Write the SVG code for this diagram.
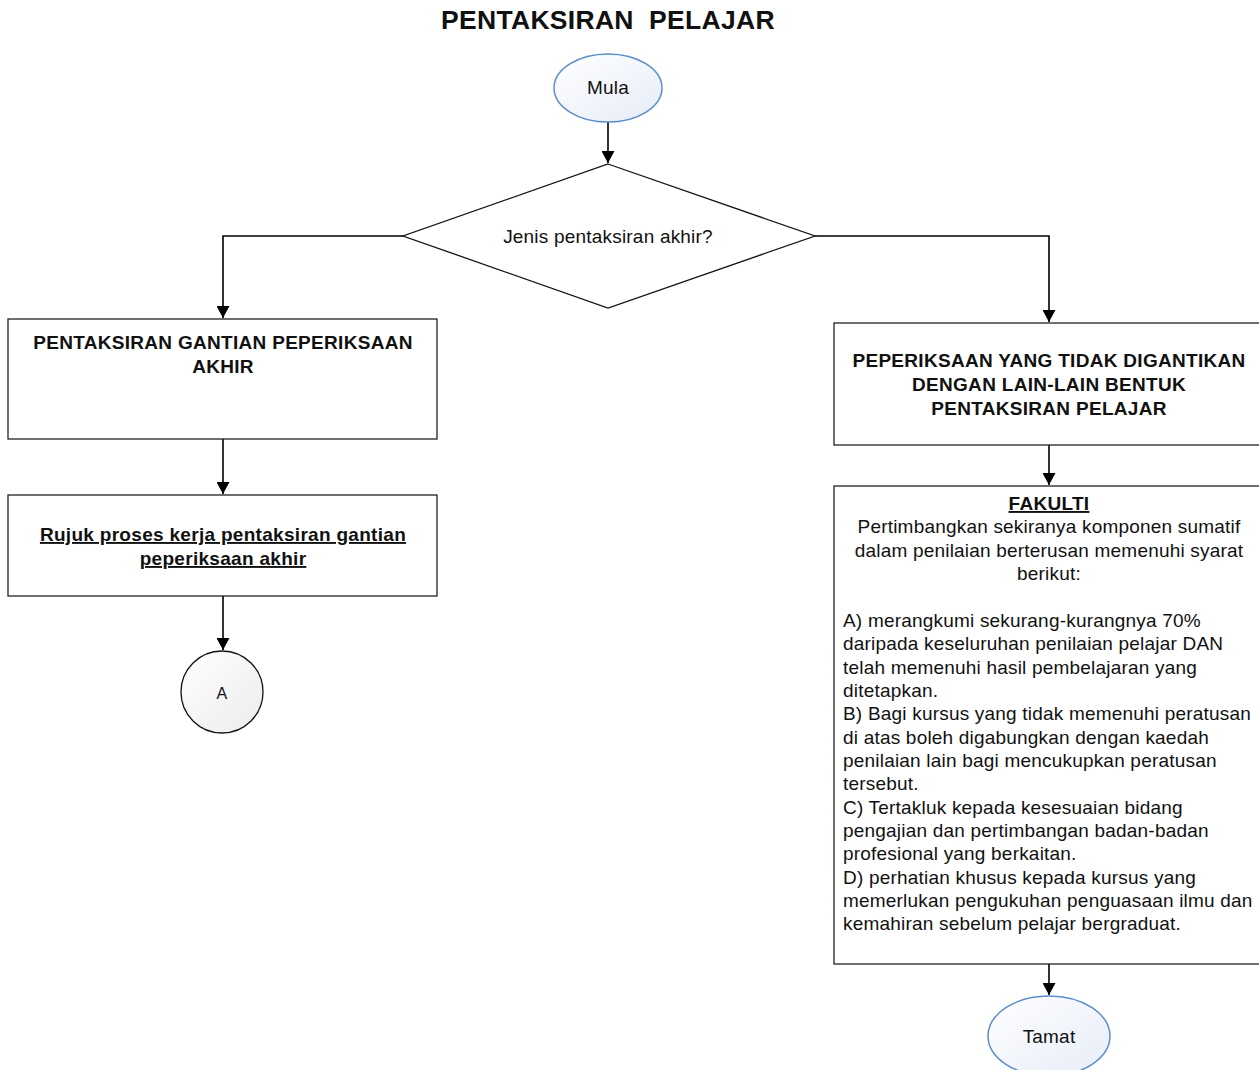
<svg xmlns="http://www.w3.org/2000/svg" width="1259" height="1070" viewBox="0 0 1259 1070">
<style>
text{font-family:"Liberation Sans",Arial,sans-serif;font-size:19px;fill:#111;letter-spacing:0.2px}
.c{text-anchor:middle}
.b{font-weight:bold;letter-spacing:0.3px}
.u{text-decoration:underline}
.box{fill:#fff;stroke:#222;stroke-width:1.3}
.term{fill:url(#gb);stroke:#5a8dc8;stroke-width:1.5}
.con{fill:none;stroke:#000;stroke-width:1.6}
</style>
<defs>
<linearGradient id="gb" x1="0" y1="0" x2="1" y2="1">
<stop offset="0" stop-color="#ffffff"/><stop offset="1" stop-color="#e6ecf7"/>
</linearGradient>
<linearGradient id="gg" x1="0" y1="0" x2="1" y2="1">
<stop offset="0" stop-color="#ffffff"/><stop offset="1" stop-color="#ececef"/>
</linearGradient>
<marker id="ah" markerUnits="userSpaceOnUse" markerWidth="13" markerHeight="13" refX="12" refY="6.5" orient="auto">
<path d="M0,0 L12,6.5 L0,13 z" fill="#000"/>
</marker>
</defs>
<rect width="1259" height="1070" fill="#fff"/>
<text class="c b" x="608" y="29" style="font-size:26.5px;white-space:pre" xml:space="preserve">PENTAKSIRAN  PELAJAR</text>

<g id="connectors">
<path class="con" d="M608,122 V163" marker-end="url(#ah)"/>
<path class="con" d="M403,236 H223 V318" marker-end="url(#ah)"/>
<path class="con" d="M815,236 H1049 V322" marker-end="url(#ah)"/>
<path class="con" d="M223,439 V494" marker-end="url(#ah)"/>
<path class="con" d="M223,596 V650" marker-end="url(#ah)"/>
<path class="con" d="M1049,445 V485" marker-end="url(#ah)"/>
<path class="con" d="M1049,964 V995" marker-end="url(#ah)"/>
</g>

<g id="mula">
<ellipse class="term" cx="608" cy="88" rx="54" ry="34"/>
<text class="c" x="608" y="94">Mula</text>
</g>

<g id="decision">
<polygon points="608,164 815,236 608,308 403,236" fill="#fff" stroke="#111" stroke-width="1.3"/>
<text class="c" x="608" y="243">Jenis pentaksiran akhir?</text>
</g>

<g id="gantian">
<rect class="box" x="8" y="319" width="429" height="120"/>
<text class="c b" x="223" y="349">PENTAKSIRAN GANTIAN PEPERIKSAAN</text>
<text class="c b" x="223" y="373">AKHIR</text>
</g>

<g id="rujuk">
<rect class="box" x="8" y="495" width="429" height="101"/>
<text class="c b u" x="223" y="541">Rujuk proses kerja pentaksiran gantian</text>
<text class="c b u" x="223" y="565">peperiksaan akhir</text>
</g>

<g id="connectorA">
<circle cx="222" cy="692" r="41" fill="url(#gg)" stroke="#111" stroke-width="1.3"/>
<text class="c" x="222" y="699" style="font-size:16px">A</text>
</g>

<g id="tidak-digantikan">
<rect class="box" x="834" y="323" width="430" height="122"/>
<text class="c b" x="1049" y="367">PEPERIKSAAN YANG TIDAK DIGANTIKAN</text>
<text class="c b" x="1049" y="391">DENGAN LAIN-LAIN BENTUK</text>
<text class="c b" x="1049" y="415">PENTAKSIRAN PELAJAR</text>
</g>

<g id="fakulti">
<rect class="box" x="834" y="486" width="430" height="478"/>
<text class="c b u" x="1049" y="510">FAKULTI</text>
<text class="c" x="1049" y="533">Pertimbangkan sekiranya komponen sumatif</text>
<text class="c" x="1049" y="557">dalam penilaian berterusan memenuhi syarat</text>
<text class="c" x="1049" y="580">berikut:</text>
<text x="843" y="627">A) merangkumi sekurang-kurangnya 70%</text>
<text x="843" y="650">daripada keseluruhan penilaian pelajar DAN</text>
<text x="843" y="674">telah memenuhi hasil pembelajaran yang</text>
<text x="843" y="697">ditetapkan.</text>
<text x="843" y="720">B) Bagi kursus yang tidak memenuhi peratusan</text>
<text x="843" y="744">di atas boleh digabungkan dengan kaedah</text>
<text x="843" y="767">penilaian lain bagi mencukupkan peratusan</text>
<text x="843" y="790">tersebut.</text>
<text x="843" y="814">C) Tertakluk kepada kesesuaian bidang</text>
<text x="843" y="837">pengajian dan pertimbangan badan-badan</text>
<text x="843" y="860">profesional yang berkaitan.</text>
<text x="843" y="884">D) perhatian khusus kepada kursus yang</text>
<text x="843" y="907">memerlukan pengukuhan penguasaan ilmu dan</text>
<text x="843" y="930">kemahiran sebelum pelajar bergraduat.</text>
</g>

<g id="tamat">
<ellipse class="term" cx="1049" cy="1036" rx="61" ry="40"/>
<text class="c" x="1049" y="1043">Tamat</text>
</g>
</svg>
